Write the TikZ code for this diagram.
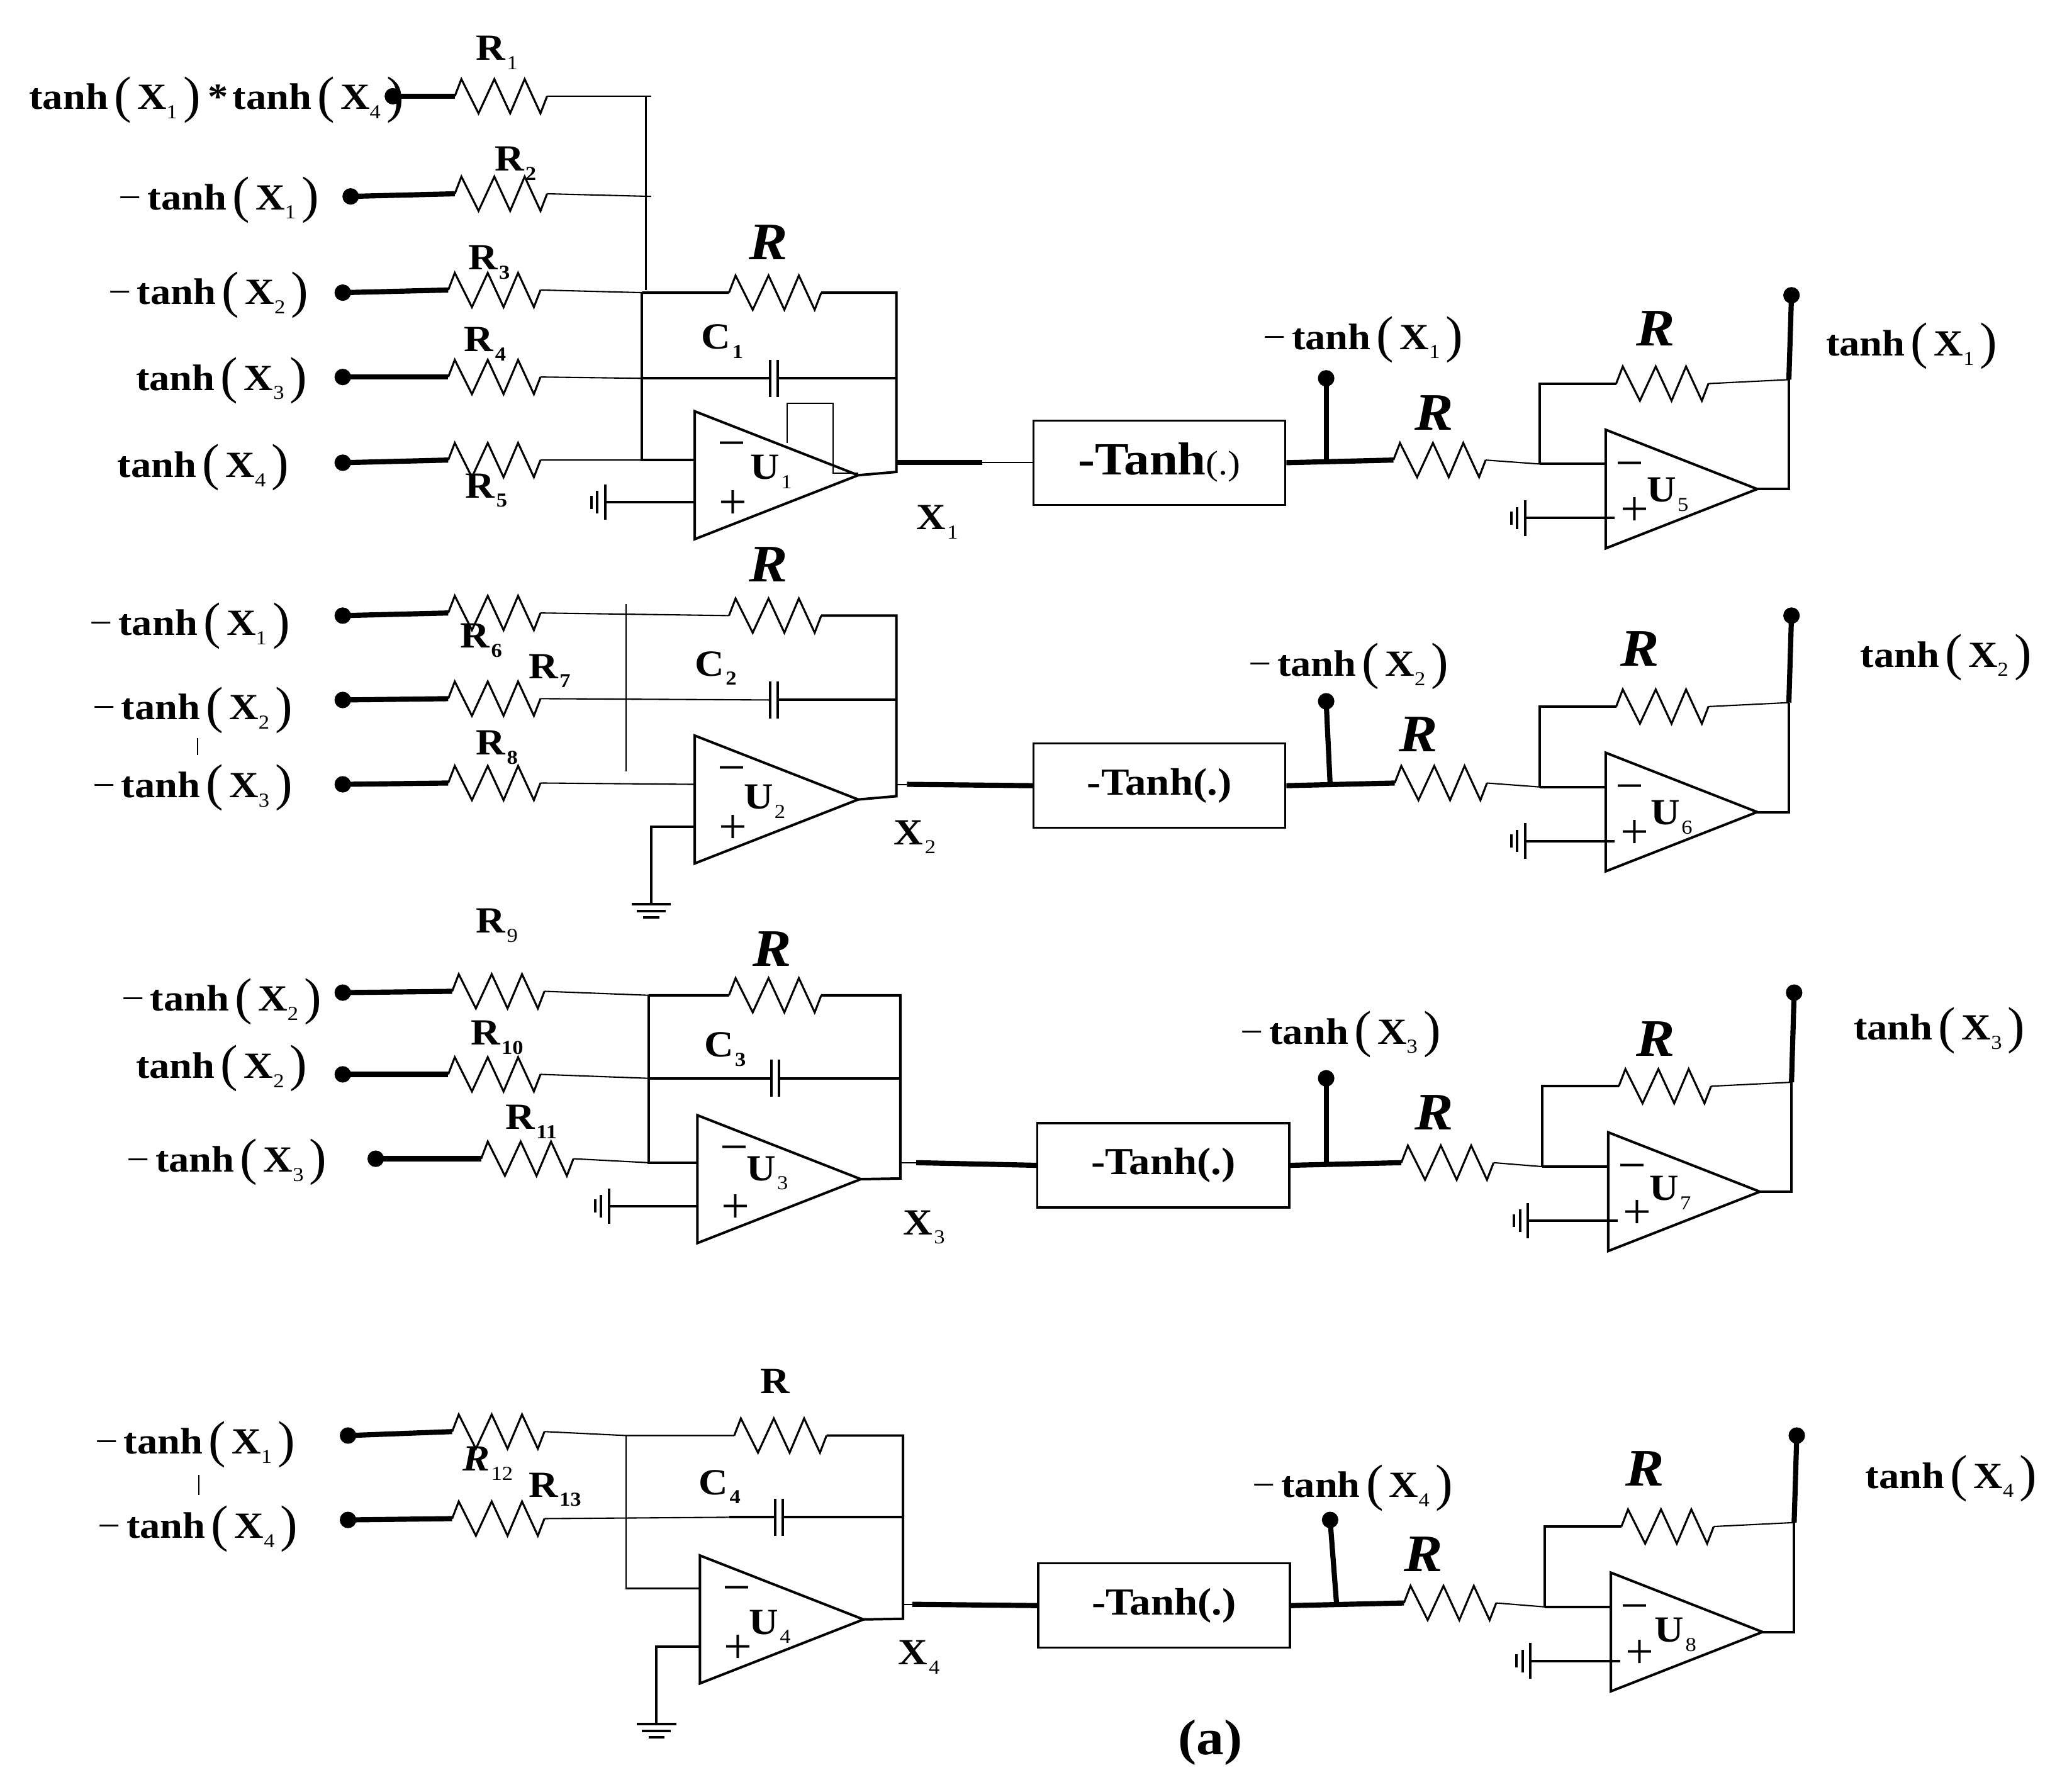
\documentclass[tikz,border=0pt]{standalone}
\usepackage{graphicx}
\usepackage{fontspec}
\setmainfont{Liberation Serif}
\newcommand{\widen}[1]{\scalebox{1.1}[1]{#1}}
\newcommand{\subl}[2]{\widen{\bfseries #1\kern1pt\raisebox{-.25em}{\fontsize{15}{15}\selectfont\mdseries #2}}}
\newcommand{\subb}[2]{\widen{\bfseries #1\kern1pt\raisebox{-.25em}{\fontsize{15}{15}\selectfont #2}}}
\newcommand{\bigp}[1]{\kern4pt\raisebox{-2pt}{\scalebox{1}[1.08]{\fontsize{36}{36}\selectfont\mdseries #1}}\kern4pt}
\newcommand{\tanhx}[1]{\widen{\bfseries tanh\bigp{(}X\raisebox{-.25em}{\fontsize{15}{15}\selectfont\mdseries #1}\bigp{)}}}
\newcommand{\mtanhx}[1]{\widen{\mdseries −\kern4pt}\tanhx{#1}}
\tikzset{
  wire/.style={line width=1.9pt, line join=miter},
  thinw/.style={line width=1pt},
  lead/.style={line width=3.9pt},
  termdot/.style={circle, fill=black, inner sep=0pt, minimum size=12.5pt},
  lab/.style={inner sep=0pt, font=\fontsize{28}{30}\selectfont},
  inlab/.style={lab, anchor=base west, yshift=-10pt},
  rval/.style={inner sep=0pt, font=\fontsize{40}{42}\selectfont\bfseries\itshape},
  sign/.style={inner sep=0pt, font=\fontsize{38}{38}\selectfont},
  tanhbox/.style={draw, line width=1.6pt, minimum width=191pt, minimum height=64pt,
    inner sep=0pt, font=\fontsize{29}{30}\selectfont\bfseries},
  resistor/.pic={
    \draw[line width=1.5pt, line join=miter] (0,0) -- (5,-13) -- (18,13) -- (30,-13) -- (42,13) -- (53,-13) -- (65,13) -- (70,0);
    \coordinate (-in) at (0,0);
    \coordinate (-out) at (70,0);
  },
  capacitor/.pic={
    \draw[wire] (0,-14) -- (0,14) (6,-14) -- (6,14);
    \coordinate (-in) at (0,0);
    \coordinate (-out) at (6,0);
  },
  gndleft/.pic={
    \draw[wire] (0,-13.5) -- (0,13.5) (-6,-8.5) -- (-6,8.5) (-10.5,-5) -- (-10.5,5);
    \coordinate (-tip) at (0,0);
  },
  gnddown/.pic={
    \draw[wire] (-15,0) -- (15,0) (-11,5) -- (11,5) (-6,10) -- (6,10);
    \coordinate (-tip) at (0,0);
  },
}

\begin{document}
\begin{tikzpicture}[x=1pt, y=-1pt]
  \useasboundingbox (0,0) rectangle (1568,1359);

  % input resistors with their leads
  \foreach \n/\dx/\dy/\rx/\ry in {1/298/73/345/73, 2/266/149/345/147, 3/260/222/340/220,
    4/260/286/340/286, 5/260/351/340/349, 6/260/467/340/465, 7/260/531/340/530,
    8/260/595/340/594, 9/260/753/343/752, 10/260/815/340/815, 11/285/879/365/879,
    12/264/1089/343/1086, 13/264/1153/343/1152}{
    \node[termdot] (d\n) at (\dx,\dy) {};
    \pic (r\n) at (\rx,\ry) {resistor};
    \draw[lead] (d\n.center) -- (r\n-in);
  }

  % integrators
  \foreach \i/\tx/\ty/\my/\ux/\uy in {1/527/312/37/585/358, 2/527/558/37/580/608,
    3/529/846/36/582/890, 4/531/1180/25/584/1234}{
    \draw[wire] (\tx,\ty) -- (\tx+124,\ty+48.5) -- (\tx,\ty+97) -- cycle;
    \coordinate (m\i-minus) at (\tx,\ty+\my);
    \coordinate (m\i-plus) at (\tx,\ty+69);
    \coordinate (m\i-out) at (\tx+124,\ty+48.5);
    \node[sign] (ms\i) at (\tx+28,\ty+30) {−};
    \node[sign] (ps\i) at (\tx+29,\ty+71) {+};
    \node[lab] (u\i) at (\ux,\uy) {\subl{U}{\i}};
  }

  % first stage
  \coordinate (a1) at (494,73);
  \coordinate (a2) at (494,149);
  \coordinate (t1) at (490,73);
  \coordinate (t2) at (490,220);
  \coordinate (n3) at (487,222);
  \coordinate (n4) at (487,287);
  \coordinate (n5) at (487,349);
  \coordinate (f1) at (680,222);
  \coordinate (g1) at (680,287);
  \coordinate (h1) at (680,358);
  \pic (fb1) at (553,222) {resistor};
  \pic (c1) at (584,287) {capacitor};
  \pic (gl1) at (459,381) {gndleft};
  \draw[thinw] (r1-out) -- (a1) (r2-out) -- (a2);
  \draw[wire, line width=1.4pt] (t1) -- (t2);
  \draw[thinw] (r3-out) -- (n3) (r4-out) -- (n4) (r5-out) -- (n5);
  \draw[wire] (n3) -- (fb1-in) (fb1-out) -- (f1) -- (h1) -- (m1-out);
  \draw[wire] (n4) -- (c1-in) (c1-out) -- (g1);
  \draw[wire] (n3) -- (n5) -- (m1-minus);
  \draw[wire] (gl1-tip) -- (m1-plus);
  \draw[thinw] (597,336) -- (597,306) -- (632,306) -- (632,359) -- (651,359);

  % second stage
  \coordinate (f2) at (680,467);
  \coordinate (g2) at (680,531);
  \coordinate (h2) at (680,604);
  \pic (fb2) at (553,467) {resistor};
  \pic (c2) at (584,531) {capacitor};
  \pic (gd2) at (494,686) {gnddown};
  \draw[thinw] (r6-out) -- (fb2-in);
  \draw[wire] (fb2-out) -- (f2) -- (h2) -- (m2-out);
  \draw[thinw] (r7-out) -- (c2-in);
  \draw[wire] (c2-out) -- (g2);
  \draw[thinw] (r8-out) -- (m2-minus);
  \draw[wire] (m2-plus) -| (gd2-tip);
  \draw[thinw] (475,458) -- (475,585);
  \draw[thinw] (150,560) -- (150,573);

  % third stage
  \coordinate (n9) at (492,755);
  \coordinate (n10) at (492,818);
  \coordinate (n11) at (492,882);
  \coordinate (f3) at (683,755);
  \coordinate (g3) at (683,818);
  \coordinate (h3) at (683,894);
  \pic (fb3) at (553,755) {resistor};
  \pic (c3) at (585,818) {capacitor};
  \pic (gl3) at (462,915) {gndleft};
  \draw[thinw] (r9-out) -- (n9) (r10-out) -- (n10) (r11-out) -- (n11);
  \draw[wire] (n9) -- (fb3-in) (fb3-out) -- (f3) -- (h3) -- (m3-out);
  \draw[wire] (n10) -- (c3-in) (c3-out) -- (g3);
  \draw[wire] (n9) -- (n11) -- (m3-minus);
  \draw[wire] (gl3-tip) -- (m3-plus);

  % fourth stage
  \coordinate (n12) at (475,1089);
  \coordinate (n13) at (553,1151);
  \coordinate (n14) at (475,1205);
  \coordinate (f4) at (685,1089);
  \coordinate (g4) at (685,1151);
  \coordinate (h4) at (685,1228);
  \pic (fb4) at (557,1089) {resistor};
  \pic (c4) at (588,1151) {capacitor};
  \pic (gd4) at (498,1308) {gnddown};
  \draw[thinw] (r12-out) -- (n12) -- (fb4-in);
  \draw[wire] (fb4-out) -- (f4) -- (h4) -- (m4-out);
  \draw[thinw] (r13-out) -- (n13);
  \draw[wire] (n13) -- (c4-in) (c4-out) -- (g4);
  \draw[thinw] (n12) -- (n14) -- (m4-minus);
  \draw[wire] (m4-plus) -| (gd4-tip);
  \draw[thinw] (151,1119) -- (151,1134);

  % tanh blocks
  \node[tanhbox] (b1) at (879.5,351) {\widen{\fontsize{35}{35}\selectfont -Tanh\fontsize{26}{26}\selectfont\mdseries(.)}};
  \foreach \i/\cx/\cy in {2/879.5/596, 3/882.5/884, 4/883/1218}{
    \node[tanhbox] (b\i) at (\cx,\cy) {\raisebox{.18em}{\widen{-Tanh(.)}}};
  }
  \coordinate (k1) at (745,351);
  \draw[lead] (680,351) -- (k1);
  \draw[thinw] (k1) -- (b1.west);
  \foreach \i/\vx/\vy/\kx/\ky in {2/680/595/688/595, 3/683/882/695/882, 4/685/1217/692/1217}{
    \coordinate (k\i) at (\kx,\ky);
    \draw[thinw] (\vx,\vy) -- (k\i);
    \draw[lead] (k\i) -- (b\i.west);
  }

  % inverters on the right
  \foreach \i/\u/\tx/\ty/\rx/\ry/\sx/\sy/\dx/\dy/\ey/\ux/\uy in {
    1/5/1218/326/1057/349/1006/351/1006/287/224/1265/375,
    2/6/1218/571/1058/594/1009/595/1006/532/467/1268/620,
    3/7/1220/859/1063/882/1006/883/1006/818/753/1267/905,
    4/8/1222/1193/1065/1216/1014/1218/1009/1153/1089/1271/1240}{
    \draw[wire] (\tx,\ty) -- (\tx+115,\ty+45) -- (\tx,\ty+90) -- cycle;
    \coordinate (m\u-minus) at (\tx,\ty+26);
    \coordinate (m\u-plus) at (\tx+7,\ty+67);
    \coordinate (m\u-out) at (\tx+115,\ty+45);
    \node[sign] (ms\u) at (\tx+18,\ty+31) {−};
    \node[sign] (ps\u) at (\tx+22,\ty+62) {+};
    \node[lab] (u\u) at (\ux,\uy) {\subl{U}{\u}};
    \pic (ri\i) at (\rx,\ry) {resistor};
    \pic (rf\i) at (\tx+8,\ty-35) {resistor};
    \pic (gl\u) at (\tx-61,\ty+67) {gndleft};
    \coordinate (v\i) at (\tx-50,\ty+26);
    \coordinate (w\i) at (\tx+139,\ty-38);
    \coordinate (s\i) at (\sx,\sy);
    \node[termdot] (bd\i) at (\dx,\dy) {};
    \node[termdot] (od\i) at (\tx+141,\ey) {};
    \draw[lead] (b\i.east) -- (ri\i-in);
    \draw[lead] (s\i) -- (bd\i.center);
    \draw[thinw] (ri\i-out) -- (v\i);
    \draw[wire] (v\i) -- (m\u-minus);
    \draw[wire] (v\i) |- (rf\i-in);
    \draw[thinw] (rf\i-out) -- (w\i);
    \draw[wire] (m\u-out) -| (w\i);
    \draw[lead] (w\i) -- (od\i.center);
    \draw[wire] (gl\u-tip) -- (m\u-plus);
  }

  % input labels
  \node[inlab] (l1) at (22,73) {\tanhx{1}\widen{\bfseries\kern1pt*\kern3pt}\tanhx{4}};
  \node[inlab] (l2) at (90,149) {\mtanhx{1}};
  \node[inlab] (l3) at (82,221) {\mtanhx{2}};
  \node[inlab] (l4) at (103,286) {\tanhx{3}};
  \node[inlab] (l5) at (89,352) {\tanhx{4}};
  \node[inlab] (l6) at (68,472) {\mtanhx{1}};
  \node[inlab] (l7) at (70,536) {\mtanhx{2}};
  \node[inlab] (l8) at (70,595) {\mtanhx{3}};
  \node[inlab] (l9) at (92,757) {\mtanhx{2}};
  \node[inlab] (l10) at (103,808) {\tanhx{2}};
  \node[inlab] (l11) at (96,879) {\mtanhx{3}};
  \node[inlab] (l12) at (72,1093) {\mtanhx{1}};
  \node[inlab] (l13) at (74,1157) {\mtanhx{4}};

  % resistor and capacitor names
  \node[lab] (nr1) at (377,40) {\subl{R}{1}};
  \node[lab] (nr2) at (391,124) {\subb{R}{2}};
  \node[lab] (nr3) at (371,199) {\subb{R}{3}};
  \node[lab] (nr4) at (368,261) {\subb{R}{4}};
  \node[lab] (nr5) at (369,372) {\subb{R}{5}};
  \node[lab] (nr6) at (365,486) {\subb{R}{6}};
  \node[lab] (nr7) at (417,509) {\subb{R}{7}};
  \node[lab] (nr8) at (377,567) {\subb{R}{8}};
  \node[lab] (nr9) at (377,702) {\subl{R}{9}};
  \node[lab] (nr10) at (377,787) {\subb{R}{10}};
  \node[lab] (nr11) at (403,851) {\subb{R}{11}};
  \node[lab] (nr12) at (370,1110) {\subl{{\itshape R}}{12}};
  \node[lab] (nr13) at (421,1130) {\subb{R}{13}};
  \node[lab] (nc1) at (548,259) {\subb{C}{1}};
  \node[lab] (nc2) at (543,507) {\subb{C}{2}};
  \node[lab] (nc3) at (550,796) {\subb{C}{3}};
  \node[lab] (nc4) at (546,1128) {\subb{C}{4}};

  % outputs of the integrators
  \node[lab] (x1) at (711,396) {\subl{X}{1}};
  \node[lab] (x2) at (694,635) {\subl{X}{2}};
  \node[lab] (x3) at (701,931) {\subl{X}{3}};
  \node[lab] (x4) at (697,1257) {\subl{X}{4}};

  % feedback values
  \foreach \j/\x/\y in {a/583/184, b/583/428, c/586/720, d/1088/313, e/1076/557, f/1088/844,
    g/1080/1179, h/1256/249, k/1244/492, l/1256/788, m/1248/1114}{
    \node[rval] (val\j) at (\x,\y) {\widen{R}};
  }
  \node[lab] (valn) at (588,1048) {\widen{\bfseries R}};

  % labels beside the blocks
  \node[inlab] (lm1) at (958,255) {\mtanhx{1}};
  \node[inlab] (lm2) at (947,503) {\mtanhx{2}};
  \node[inlab] (lm3) at (941,782) {\mtanhx{3}};
  \node[inlab] (lm4) at (950,1126) {\mtanhx{4}};
  \node[inlab] (lp1) at (1385,260) {\tanhx{1}};
  \node[inlab] (lp2) at (1411,496) {\tanhx{2}};
  \node[inlab] (lp3) at (1406,779) {\tanhx{3}};
  \node[inlab] (lp4) at (1415,1119) {\tanhx{4}};

  \node[lab] (capa) at (918,1322) {\widen{\fontsize{38}{38}\selectfont\bfseries (a)}};
\end{tikzpicture}
\end{document}
